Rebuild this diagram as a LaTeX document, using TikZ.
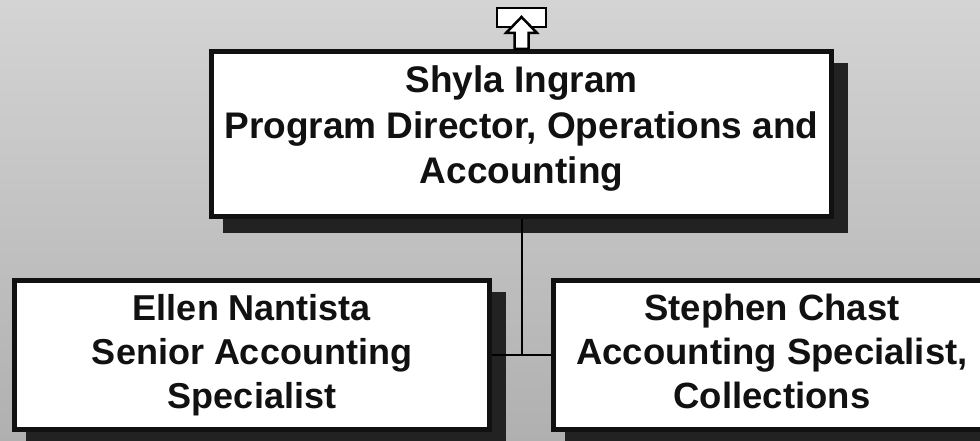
\documentclass[tikz,border=0pt]{standalone}
\usepackage{fontspec}
\setmainfont{Liberation Sans}
\pgfdeclarelayer{bg}
\pgfdeclarelayer{shadowlayer}
\pgfsetlayers{bg,shadowlayer,main}
\definecolor{bgtop}{RGB}{212,212,212}
\definecolor{bgbot}{RGB}{176,176,176}
\definecolor{shadowc}{RGB}{34,34,34}
\definecolor{edgec}{RGB}{17,17,17}
\tikzset{
  orgbox/.style={draw=edgec, line width=5pt, fill=white, align=center,
    text=edgec, font=\bfseries, inner sep=0pt},
  link/.style={draw=black, line width=2pt},
  icon/.style={draw=black, line width=2.5pt, fill=white, line join=miter},
}
\newcommand{\boxshadow}[1]{%
  \begin{pgfonlayer}{shadowlayer}
    \fill[shadowc] ([shift={(14,14)}]#1.north west) rectangle ([shift={(14,14)}]#1.south east);
  \end{pgfonlayer}}
\begin{document}
\begin{tikzpicture}[x=1pt,y=-1pt]
\useasboundingbox (0,0) rectangle (980,441);
\clip (0,0) rectangle (980,441);
\begin{pgfonlayer}{bg}
  \shade[top color=bgtop, bottom color=bgbot] (0,0) rectangle (980,441);
\end{pgfonlayer}

\node[orgbox, minimum width=620pt, minimum height=165pt, text depth=18pt,
  font=\fontsize{37}{45.5}\selectfont\bfseries] (top) at (521.5,134)
  {Shyla Ingram\\Program Director, Operations and\\Accounting};
\node[orgbox, minimum width=475pt, minimum height=149pt, text depth=7.6pt,
  font=\fontsize{36}{44}\selectfont\bfseries] (left) at (252,355)
  {Ellen Nantista\\Senior Accounting\\Specialist};
\node[orgbox, minimum width=437pt, minimum height=149pt, text depth=7.6pt,
  font=\fontsize{36.5}{44}\selectfont\bfseries] (right) at (772,355)
  {Stephen Chast\\Accounting Specialist,\\Collections};

\boxshadow{top}
\boxshadow{left}
\boxshadow{right}

\coordinate (junction) at (top.south |- left.east);
\begin{pgfonlayer}{shadowlayer}
  \draw[link] (top.south) -- (junction);
  \draw[link] (left.east) -- (right.west);
\end{pgfonlayer}

% collapse/expand icon above the top box
\draw[icon] (497,8) rectangle (546,27);
\draw[icon] (521.5,17) -- (537,33) -- (528.5,33) -- (528.5,49) -- (514.5,49)
  -- (514.5,33) -- (506,33) -- cycle;
\end{tikzpicture}
\end{document}
